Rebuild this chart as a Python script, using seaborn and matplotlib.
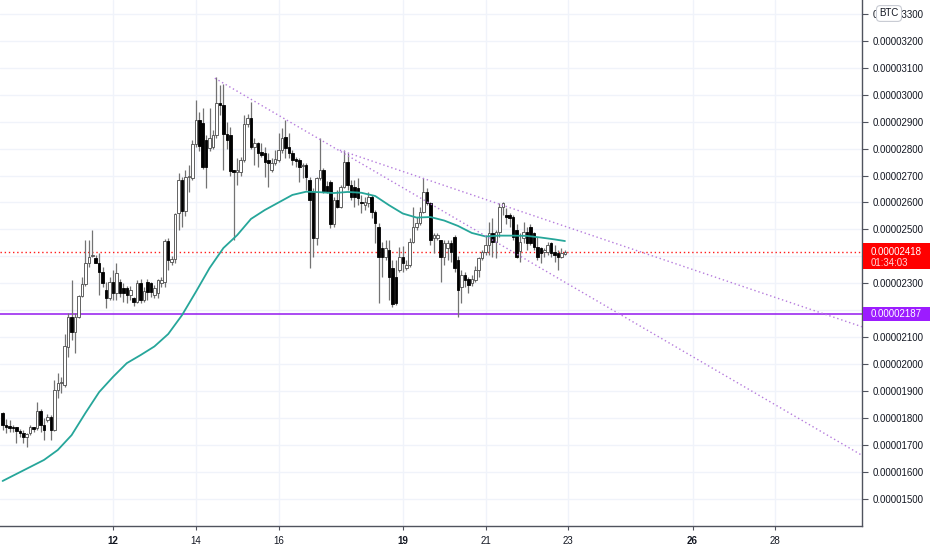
import numpy as np
import matplotlib
matplotlib.use("Agg")
import matplotlib.pyplot as plt
from matplotlib.patches import Rectangle
import seaborn as sns

# 2h candles, prices in satoshi (1e-8 BTC)
opens = [1820, 1775, 1771, 1767, 1766, 1753, 1745, 1731, 1744, 1766,
         1762, 1827, 1775, 1793, 1805, 1756, 1904, 1931, 1923, 2065,
         2176, 2120, 2176, 2253, 2297, 2374, 2401, 2393, 2377, 2343,
         2275, 2244, 2306, 2263, 2306, 2282, 2282, 2257, 2244, 2232,
         2300, 2240, 2306, 2300, 2257, 2263, 2300, 2306, 2458, 2380,
         2392, 2560, 2683, 2570, 2695, 2690, 2817, 2906, 2895, 2832,
         2801, 2805, 2850, 2968, 2960, 2855, 2850, 2720, 2714, 2714,
         2757, 2891, 2912, 2806, 2819, 2788, 2782, 2757, 2720, 2745,
         2757, 2794, 2844, 2807, 2784, 2760, 2757, 2735, 2739, 2683,
         2640, 2467, 2690, 2720, 2660, 2677, 2522, 2609, 2584, 2658,
         2751, 2665, 2658, 2652, 2603, 2590, 2597, 2619, 2566, 2510,
         2430, 2399, 2424, 2356, 2325, 2349, 2399, 2356, 2368, 2455,
         2510, 2523, 2566, 2640, 2597, 2467, 2470, 2461, 2399, 2430,
         2448, 2473, 2386, 2287, 2331, 2318, 2300, 2312, 2349, 2393,
         2417, 2442, 2485, 2455, 2492, 2584, 2554, 2554, 2547, 2498,
         2420, 2467, 2492, 2510, 2485, 2436, 2430, 2417, 2417, 2448,
         2417, 2411, 2399, 2409]
highs = [1824, 1797, 1793, 1775, 1767, 1760, 1756, 1745, 1774, 1767,
         1861, 1834, 1801, 1815, 1811, 1941, 1966, 1954, 2114, 2189,
         2312, 2190, 2257, 2325, 2461, 2461, 2498, 2405, 2411, 2362,
         2306, 2325, 2349, 2375, 2318, 2300, 2290, 2290, 2250, 2312,
         2318, 2287, 2318, 2306, 2295, 2318, 2325, 2465, 2467, 2400,
         2560, 2708, 2695, 2720, 2740, 2832, 2980, 2937, 2950, 2850,
         2950, 2870, 3065, 3035, 3040, 2900, 2880, 2722, 2765, 2770,
         2925, 2930, 2974, 2838, 2825, 2820, 2807, 2782, 2764, 2794,
         2856, 2875, 2906, 2856, 2794, 2770, 2764, 2745, 2745, 2695,
         2652, 2695, 2838, 2727, 2680, 2683, 2621, 2646, 2665, 2794,
         2782, 2683, 2683, 2690, 2628, 2621, 2640, 2628, 2572, 2523,
         2455, 2461, 2461, 2386, 2386, 2436, 2440, 2386, 2467, 2584,
         2547, 2584, 2690, 2652, 2603, 2485, 2485, 2461, 2461, 2461,
         2461, 2479, 2400, 2350, 2343, 2325, 2330, 2365, 2399, 2424,
         2479, 2529, 2541, 2498, 2597, 2603, 2578, 2560, 2554, 2522,
         2485, 2529, 2510, 2522, 2492, 2473, 2436, 2430, 2455, 2455,
         2442, 2424, 2430, 2424]
lows = [1756, 1745, 1748, 1748, 1707, 1730, 1707, 1694, 1737, 1748,
        1756, 1748, 1719, 1785, 1719, 1752, 1873, 1892, 1917, 2028,
        2090, 2040, 2172, 2250, 2290, 2362, 2399, 2374, 2257, 2287,
        2207, 2240, 2238, 2238, 2250, 2232, 2226, 2240, 2215, 2226,
        2226, 2232, 2240, 2250, 2244, 2244, 2287, 2287, 2349, 2368,
        2374, 2498, 2510, 2550, 2640, 2683, 2807, 2790, 2725, 2653,
        2790, 2800, 2840, 2925, 2720, 2800, 2700, 2461, 2665, 2700,
        2750, 2880, 2800, 2739, 2733, 2770, 2696, 2658, 2714, 2739,
        2751, 2783, 2764, 2764, 2739, 2730, 2677, 2690, 2646, 2356,
        2399, 2442, 2683, 2634, 2634, 2504, 2510, 2578, 2578, 2652,
        2646, 2609, 2584, 2590, 2560, 2572, 2584, 2541, 2448, 2226,
        2325, 2386, 2238, 2213, 2220, 2343, 2343, 2349, 2362, 2448,
        2498, 2517, 2560, 2590, 2442, 2411, 2461, 2306, 2368, 2386,
        2380, 2343, 2175, 2226, 2287, 2263, 2290, 2306, 2325, 2386,
        2405, 2405, 2399, 2393, 2473, 2554, 2522, 2510, 2461, 2393,
        2380, 2448, 2424, 2442, 2424, 2386, 2374, 2399, 2405, 2399,
        2380, 2349, 2393, 2407]
closes = [1775, 1767, 1765, 1763, 1753, 1746, 1731, 1741, 1766, 1759,
          1828, 1775, 1756, 1804, 1756, 1904, 1931, 1935, 2067, 2176,
          2120, 2176, 2253, 2297, 2374, 2399, 2406, 2377, 2343, 2300,
          2244, 2306, 2263, 2338, 2263, 2263, 2257, 2275, 2232, 2300,
          2240, 2270, 2269, 2269, 2282, 2312, 2312, 2458, 2386, 2392,
          2557, 2683, 2570, 2695, 2700, 2817, 2906, 2810, 2733, 2733,
          2838, 2850, 2968, 2960, 2855, 2832, 2715, 2714, 2720, 2757,
          2891, 2912, 2806, 2819, 2782, 2776, 2751, 2745, 2745, 2760,
          2794, 2838, 2801, 2782, 2757, 2755, 2733, 2739, 2695, 2609,
          2467, 2690, 2720, 2640, 2640, 2522, 2609, 2584, 2658, 2751,
          2665, 2621, 2621, 2615, 2597, 2603, 2619, 2566, 2523, 2399,
          2399, 2430, 2325, 2223, 2226, 2399, 2374, 2368, 2455, 2510,
          2523, 2566, 2640, 2597, 2461, 2479, 2479, 2399, 2448, 2448,
          2417, 2356, 2275, 2331, 2312, 2294, 2318, 2349, 2393, 2417,
          2442, 2485, 2455, 2492, 2584, 2597, 2547, 2541, 2473, 2399,
          2455, 2492, 2448, 2448, 2436, 2399, 2411, 2424, 2442, 2411,
          2405, 2399, 2411, 2418]

ma_idx = list(range(0, 161, 4)) + [163]
ma_vals = [1567, 1593, 1619, 1645, 1682, 1737, 1819, 1897, 1953, 2004,
           2034, 2066, 2112, 2182, 2268, 2357, 2431, 2479, 2539, 2572,
           2600, 2628, 2640, 2638, 2635, 2639, 2636, 2624, 2590, 2559,
           2544, 2546, 2533, 2513, 2487, 2474, 2477, 2477, 2476, 2470,
           2463, 2457]

# trendline anchors (day of month, price)
trend_a_days = [14.46, 17.60]
trend_a_prices = [3061, 2780]
trend_b_days = [17.48, 21.35]
trend_b_prices = [2794, 2593]

support_level = 2187
last_price = 2418
countdown = "01:34:03"
date_ticks = [12, 14, 16, 19, 21, 23, 26, 28]
bold_dates = [12, 19, 26]
price_ticks = list(range(1500, 3301, 100))

sns.set_style("white")
plt.rcParams["font.family"] = ["Liberation Sans", "DejaVu Sans"]

W, H = 932, 550
fig = plt.figure(figsize=(W / 100, H / 100), dpi=100)
ax = fig.add_axes([0, 24 / H, 862 / W, 526 / H])
ax.set_xlim(9.2705, 30.092)
ax.set_ylim(1400, 3351)

times = 9 + 8 / 24 + np.arange(len(closes)) * 2 / 24
o = np.array(opens)
c = np.array(closes)
up = c >= o

# grid
ax.set_xticks(date_ticks)
ax.set_yticks(price_ticks)
ax.grid(True, color="#f0f3fa", lw=1)
ax.set_axisbelow(True)

ax.axhline(support_level, color="#9c2bf0", lw=1.2, zorder=1.5)
ax.axhline(last_price, color="#ff1a1a", lw=1, linestyle=(0, (1, 2)), zorder=1.5)

# wicks and bodies
ax.vlines(times, lows, highs, color="#737373", lw=0.9, zorder=2)
bottoms = np.minimum(o, c)
heights = np.maximum(np.abs(c - o), 1.5)
faces = ["white" if u else "black" for u in up]
edges = ["#4a4a4a" if u else "black" for u in up]
ax.bar(times, heights, bottom=bottoms, width=0.062, color=faces,
       edgecolor=edges, linewidth=0.6, zorder=3)

# moving average
ma_times = 9 + 8 / 24 + np.array(ma_idx) * 2 / 24
sns.lineplot(x=ma_times, y=ma_vals, ax=ax, color="#26a69a", lw=1.3,
             sort=False, zorder=4)

# trendlines, extended to the right edge
x_end = ax.get_xlim()[1]
for dd, pp in [(trend_a_days, trend_a_prices), (trend_b_days, trend_b_prices)]:
    slope = (pp[1] - pp[0]) / (dd[1] - dd[0])
    y_end = pp[0] + slope * (x_end - dd[0])
    sns.lineplot(x=[dd[0], x_end], y=[pp[0], y_end], ax=ax,
                 color="#b57bdc", lw=1, linestyle=(0, (1, 2)), zorder=5)

# axes styling
for s in ["left", "top"]:
    ax.spines[s].set_visible(False)
for s in ["right", "bottom"]:
    ax.spines[s].set_color("#50535e")
    ax.spines[s].set_linewidth(1)
ax.yaxis.tick_right()
ylabels = []
for p in price_ticks:
    if p in (2200, 2400):
        ylabels.append("")
    else:
        ylabels.append(f"{p * 1e-8:.8f}")
ax.set_yticklabels(ylabels)
ax.tick_params(axis="y", right=True, length=4, color="#50535e", pad=4,
               labelsize=7, labelcolor="#131722")
ax.set_xticklabels([str(d) for d in date_ticks])
ax.tick_params(axis="x", bottom=True, length=3, color="#50535e", pad=4,
               labelsize=7, labelcolor="#131722")
for lbl, d in zip(ax.get_xticklabels(), date_ticks):
    if d in bold_dates:
        lbl.set_fontweight("bold")
ax.set_xlabel("")
ax.set_ylabel("")


def fig_y(price):
    disp = ax.transData.transform((ax.get_xlim()[0], price))
    return fig.transFigure.inverted().transform(disp)[1]


x0 = 862.5 / W
bw = 67 / W
tx = 871 / W

# last-price label
yc = fig_y(last_price)
fig.add_artist(Rectangle((x0, yc - 17 / H), bw, 26 / H, transform=fig.transFigure,
                         facecolor="#ff0000", edgecolor="none", zorder=10))
fig.text(tx, yc, f"{last_price * 1e-8:.8f}", color="white", fontsize=7,
         va="center", ha="left", zorder=11)
fig.text(tx, yc - 11.5 / H, countdown, color="#ffd6d6", fontsize=7,
         va="center", ha="left", zorder=11)

# support label
ys = fig_y(support_level)
fig.add_artist(Rectangle((x0, ys - 7 / H), bw, 14 / H, transform=fig.transFigure,
                         facecolor="#9c1cff", edgecolor="none", zorder=10))
fig.text(tx, ys, f"{support_level * 1e-8:.8f}", color="white", fontsize=7,
         va="center", ha="left", zorder=11)

# currency badge (covers part of the top price label, as in the source chart)
fig.text(889 / W, 1 - 13.5 / H, "BTC", color="#131722", fontsize=7,
         va="center", ha="center", zorder=12,
         bbox=dict(boxstyle="round,pad=0.3,rounding_size=0.4", fc="white",
                   ec="#c8cbd3", lw=0.8))

fig.savefig("out.png", dpi=100, facecolor="white")
